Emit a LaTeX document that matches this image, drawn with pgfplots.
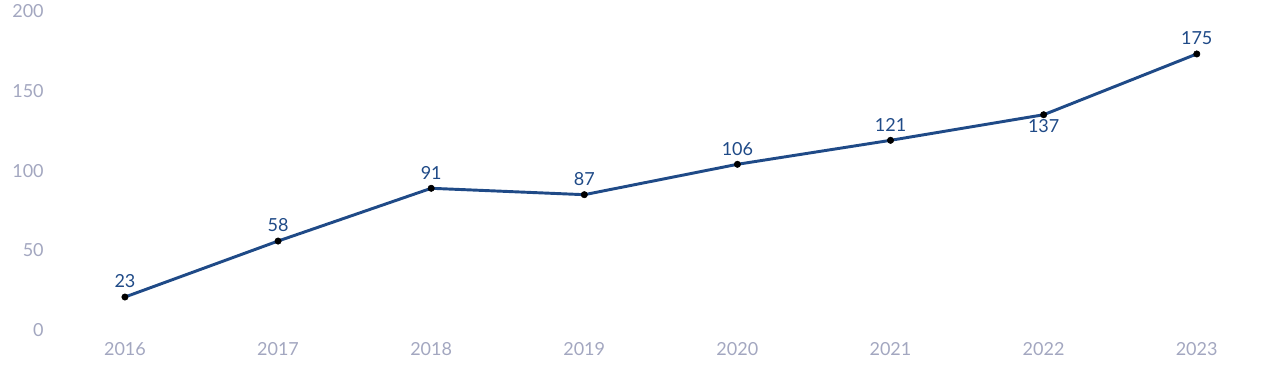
\documentclass[border=0pt]{standalone}
\usepackage{pgfplots}
\pgfplotsset{compat=1.18}
\usepackage{fontspec}
\setmainfont{Lato}
\definecolor{tickgray}{HTML}{A3A7C0}
\definecolor{lineblue}{HTML}{1F4A87}
\begin{document}
\begin{tikzpicture}[x=1pt,y=1pt]
\useasboundingbox (-36.3pt,-36.15pt) rectangle (923.7pt,250.35pt);
\begin{axis}[
  at={(0,0)}, anchor=south west,
  scale only axis,
  width=918.7pt, height=239.85pt,
  xmin=2015.5, xmax=2023.5,
  ymin=0, ymax=200,
  axis line style={draw=none},
  tick style={draw=none},
  xtick={2016,...,2023},
  ytick={0,50,100,150,200},
  xticklabel style={text=tickgray, font=\fontsize{13.5}{15}\selectfont, yshift=-3pt},
  yticklabel style={text=tickgray, font=\fontsize{13.5}{15}\selectfont, yshift=2.5pt},
  /pgf/number format/assume math mode=true,
  xticklabel={\pgfmathprintnumber[1000 sep={}]{\tick}},
  xtick pos=bottom, ytick pos=left,
  clip=false,
]
\addplot[
  color=lineblue, line width=2.2pt,
  mark=*, mark size=2.4pt, mark options={solid, fill=black, draw=black, line width=0.4pt},
  nodes near coords,
  point meta=explicit symbolic,
  visualization depends on={value \thisrow{a} \as \anc},
  visualization depends on={value \thisrow{s} \as \shf},
  every node near coord/.append style={anchor=\anc, yshift=\shf pt, text=lineblue, font=\fontsize{13.5}{15}\selectfont, inner sep=2pt},
] table[x=x, y=y, meta=y] {
x y a s
2016 23 south 4.5
2017 58 south 4.5
2018 91 south 4.5
2019 87 south 4.5
2020 106 south 4.5
2021 121 south 4.5
2022 137 north -1
2023 175 south 4.5
};
\end{axis}
\end{tikzpicture}
\end{document}
